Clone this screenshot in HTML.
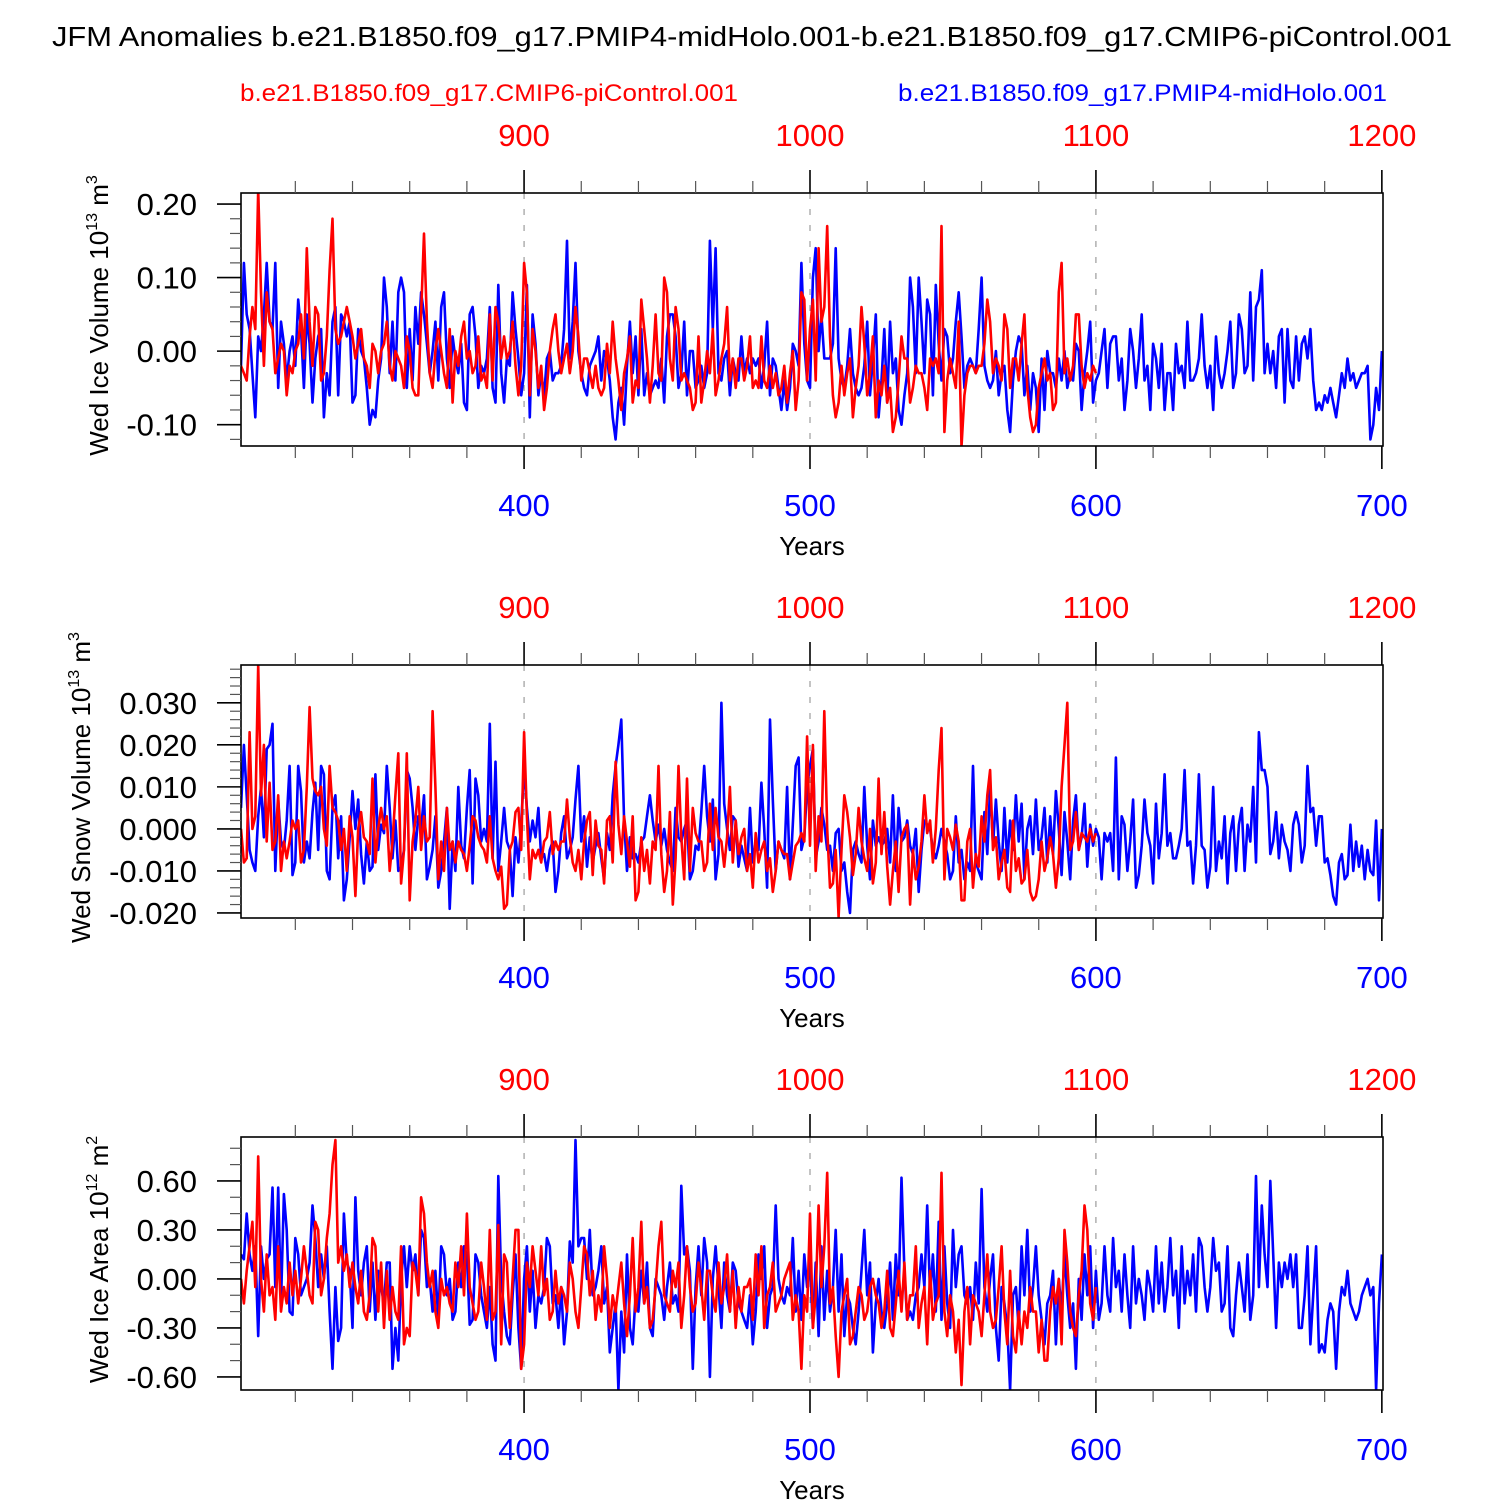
<!DOCTYPE html>
<html><head><meta charset="utf-8"><style>
html,body{margin:0;padding:0;background:#fff}
svg{display:block;font-family:"Liberation Sans",sans-serif}
</style></head><body>
<svg id="chart" width="1500" height="1500" viewBox="0 0 1500 1500" xmlns="http://www.w3.org/2000/svg">
<text x="52" y="46" font-size="28" textLength="1400" lengthAdjust="spacingAndGlyphs">JFM Anomalies b.e21.B1850.f09_g17.PMIP4-midHolo.001-b.e21.B1850.f09_g17.CMIP6-piControl.001</text>
<text x="240" y="101" font-size="24" fill="#ff0000" textLength="498" lengthAdjust="spacingAndGlyphs">b.e21.B1850.f09_g17.CMIP6-piControl.001</text>
<text x="898" y="101" font-size="24" fill="#0000ff" textLength="489" lengthAdjust="spacingAndGlyphs">b.e21.B1850.f09_g17.PMIP4-midHolo.001</text>
</svg>
<script>
// Panel 1: Wed Ice Volume (units 0.01)
const b1 = [-2,12,5,3,-3,-9,2,0,5,12,4,3,12,-5,4,1,-4,0,2,-2,
7,3,-5,5,1,-7,-1,2,3,-9,-3,-6,4,6,-6,5,4,2,4,-7,
-6,3,0,-1,-5,-10,-8,-9,-4,-1,10,6,-3,4,-4,8,10,8,-5,3,
-4,6,1,8,5,1,-3,0,4,-4,6,8,-1,-5,2,-1,-3,1,-7,-8,
5,6,2,-5,-2,-3,-1,6,-5,-7,9,-3,-7,-1,-2,8,3,-1,-6,-3,
9,-9,5,1,-6,-3,-6,-1,0,-4,-3,-3,-2,3,15,-1,4,12,0,-3,
-5,-6,-2,-1,0,2,-4,0,-1,-4,-9,-12,-7,-5,-10,-2,4,-3,2,-6,
3,-6,-3,-6,-5,-4,-5,-1,-7,2,5,5,2,-5,-3,4,-6,0,0,-5,
-4,-2,-5,-3,15,3,14,-3,-4,-1,0,-6,-1,-3,-4,2,-3,-1,-3,-1,
-2,-1,-5,-2,4,-6,-1,-2,-5,-8,-4,-8,-5,1,0,-2,12,1,-4,-5,
10,14,0,5,-1,-1,-1,1,14,-1,-4,-5,-2,3,-3,-5,-6,-5,-2,4,
-6,-1,5,-9,-4,3,-7,4,-3,-1,-8,-10,-6,-3,10,6,-3,10,4,-3,
7,5,-6,9,1,-4,3,2,-3,-1,4,8,2,-5,-2,-1,-2,-3,3,10,
-2,-4,-5,-4,0,-6,-3,-2,-8,-11,-4,0,2,1,-6,-2,-8,-3,-5,-11,
-1,-8,0,-3,-3,-5,-1,-4,0,-5,-3,-4,1,0,-8,-3,0,4,-7,-4,
-3,0,3,-5,1,2,2,-4,-1,-8,-4,3,0,-5,-1,5,-4,-2,-8,1,
-1,-5,1,-8,-3,-3,-8,1,-3,-2,-5,4,-4,-4,-3,-1,5,-2,-5,-2,
-8,2,-3,-5,-3,0,4,-5,-3,5,3,-3,-2,8,-4,6,7,11,-3,1,
-3,0,-5,2,3,-7,3,-4,-5,2,-4,1,2,-1,3,-4,-8,-7,-8,-6,
-7,-5,-7,-9,-6,-3,-5,-1,-4,-3,-5,-4,-3,-3,-2,-12,-10,-5,-8,0];
const r1 = [-2,-3,-4,2,6,3,22,8,-2,8,4,3,-3,-1,1,0,-6,-2,-3,0,
1,5,-1,14,4,-2,6,5,-4,-3,2,11,18,3,1,2,4,6,4,2,
-1,1,3,-1,-2,-5,1,0,-3,0,1,4,-2,-4,0,-1,-2,-5,2,0,
-5,-6,-6,5,16,4,-3,-5,0,3,0,-3,-5,3,-7,0,-2,2,4,-1,
0,-3,-2,2,-4,-3,-5,5,-4,6,4,-1,2,-1,0,4,-2,-6,-2,12,
8,-6,3,0,-5,-2,-8,-5,0,3,5,0,-3,-1,1,-3,0,6,2,-4,
-1,-1,-3,-5,-2,-5,-6,-5,1,-3,4,-1,-4,-8,-3,-1,2,-7,-4,-5,
7,3,-1,-7,-2,5,-3,-4,10,8,-1,-4,6,3,-4,-3,-4,-5,-8,-7,
2,-7,-4,0,-3,3,-6,-4,-1,1,6,-4,-1,-5,-1,-1,-4,-2,2,-5,
-4,-5,2,-4,-5,-2,-5,-3,-6,-5,-2,-7,-3,0,-8,-4,8,7,-4,3,
7,-4,14,4,6,17,2,-6,-9,-7,-2,-6,-3,-1,-9,-5,-2,6,1,-6,
-3,2,-9,-4,-6,-2,-7,-5,-11,-9,-4,2,-1,-1,-7,-5,-2,-3,-3,-5,
-8,-1,-2,-1,-3,17,-11,-4,-1,-3,-5,4,-13,-6,-3,-2,-2,-3,-2,-2,
1,7,4,-3,-1,-2,-4,5,3,-5,-1,-1,-4,1,5,-5,-9,-11,-10,-5,
-3,-1,-4,-3,-8,-7,8,12,-3,-1,-4,-2,5,5,-2,-5,-3,-4,-2,-3];
// Panel 2: Wed Snow Volume (units 0.001)
const b2 = [5,20,8,-5,-8,-10,3,10,-2,19,20,25,-10,7,-3,-5,2,15,-11,-8,
15,9,-8,-3,-7,4,11,-5,15,13,-10,-12,5,8,-7,3,-17,-12,-2,9,
0,7,-6,-13,-3,-10,-9,13,-5,1,-1,15,5,-7,2,-10,-9,-5,14,12,
5,-5,3,0,8,-12,-9,-5,3,-14,-10,-3,5,-19,-3,-10,10,-4,-7,5,
14,-13,12,8,-3,0,-3,25,-7,16,-10,-3,5,-3,-5,-16,-2,-8,1,15,
5,-3,2,-2,5,-7,-6,-10,-5,-3,-15,-10,-1,3,-7,-5,-2,7,15,-3,
3,-9,-2,-8,-4,-1,-7,-12,-1,-5,8,15,20,26,2,-10,-2,-7,-6,-8,
-3,-2,3,8,2,-3,1,-4,0,-5,-8,-10,5,-2,-3,0,2,-12,-10,-4,
-5,4,15,3,-3,7,-12,-6,30,6,0,-5,3,2,-9,-4,-7,-10,5,-8,
-3,-5,11,0,-14,26,7,-10,-3,-5,-7,10,-12,1,15,17,-5,-2,10,15,
19,-7,-3,5,1,-5,-4,-10,-1,0,-10,-8,-15,-20,-5,-3,-6,-8,10,-4,
-12,2,-4,-2,-4,-3,0,-8,8,-10,5,-3,-2,2,-4,-6,0,-15,-5,2,
1,0,-5,-7,-4,0,-3,-6,-12,-10,3,-8,-5,-12,-8,-10,15,-8,-10,-12,
4,-6,10,-4,7,-3,-10,5,-8,2,-5,8,-3,6,-12,0,3,-6,7,-5,
-2,5,-8,3,-6,9,0,-11,4,-3,-12,2,8,-5,-2,6,-9,1,-4,0,
-2,-12,-1,-3,-1,-10,17,-12,3,1,-10,-3,7,-14,-11,-4,7,-1,-4,-13,
6,-7,-1,13,-4,-1,-7,-7,-4,0,14,-4,-3,-13,-4,13,-4,-5,-14,-9,
10,-10,-3,-7,3,-13,-1,3,-10,1,5,-10,1,-3,10,-8,23,14,14,10,
-6,-3,4,-7,1,-3,-5,-10,1,4,1,-8,-4,15,4,5,-4,3,3,-8,
-7,-11,-16,-18,-8,-6,-12,-11,1,-10,-3,-9,-4,-12,-5,-10,-11,2,-17,0];
const r2 = [0,-8,-7,23,0,3,39,8,20,-3,11,-5,-3,8,-10,-3,-7,-3,2,0,
2,-8,-5,10,29,12,9,8,10,0,-4,15,5,4,2,-5,0,-10,3,-2,
-16,0,4,-2,-3,-6,12,-8,0,5,0,3,-10,-3,8,18,-13,-5,18,-17,
-3,2,10,-5,3,-3,-2,28,10,-12,-3,-10,5,-5,-3,-8,-3,-5,-6,-10,
-4,3,2,-2,-4,-5,-8,3,-7,-10,-12,-9,-19,-18,-5,-3,4,5,-5,23,
3,-12,-5,-7,-5,-8,-3,-2,4,-6,-3,-5,-3,-3,7,-2,-8,-10,-5,-12,
-3,2,4,-11,2,-4,-5,-13,2,3,-8,16,1,-6,3,-3,-9,3,-17,-15,
-2,-10,-5,-13,-3,-5,15,-6,-15,-10,4,-18,-7,15,-2,-12,12,-10,5,-1,
-3,-3,-10,-8,6,-5,5,-2,-3,-9,-2,10,-8,2,-6,-2,0,-10,-6,-14,
-1,-8,-5,-3,-10,-7,-15,-10,-3,-5,-6,-6,-12,-8,-4,-3,-1,-3,22,-4,
20,-10,3,-3,28,0,-14,-13,-5,-21,-5,8,4,-2,-11,-6,5,-3,-7,-10,
0,-13,-8,12,-6,4,-9,-18,-10,-3,-15,-2,0,1,-18,-5,-12,-9,-3,8,
-1,2,-8,0,14,24,-12,0,-2,-5,1,-3,-17,-17,-3,0,-14,-6,-9,3,
-3,8,14,-5,-2,-12,-8,-5,-14,-15,2,-10,-7,-13,-12,-5,-15,-17,-16,-12,
-3,-10,-7,-2,-6,-14,-7,10,20,30,-5,-3,4,-5,-1,-2,-3,0,-3,-1];
// Panel 3: Wed Ice Area (units 0.01)
const b3 = [15,12,40,15,5,20,-35,20,0,12,15,56,-5,56,-15,52,30,-20,-22,25,
15,-10,-5,0,10,45,25,-5,15,0,20,-20,-55,-5,-38,-30,40,10,5,-30,
50,5,-10,10,20,-20,10,-25,5,-5,-15,10,10,-55,-30,-50,0,20,-5,20,
5,15,-10,30,25,-5,0,-20,5,-25,20,15,-10,0,-25,-20,10,-5,20,15,
-28,-25,15,10,-10,-20,-30,-5,-40,-50,63,0,-20,-35,-40,-10,15,-30,-55,0,
20,-20,5,-30,-10,-15,-5,25,20,-15,-10,-30,-5,-40,-20,23,10,85,20,25,
25,0,30,-10,-5,5,20,-15,-5,-45,-30,-15,-68,-20,-45,15,-30,-40,-10,-20,
5,-15,10,-30,-35,0,-5,-10,-25,-5,10,-15,-10,-20,57,15,20,5,-55,-5,
20,-10,25,10,-60,0,20,-5,-30,10,-10,-20,10,5,-15,-20,-25,-30,-10,-40,
-20,15,0,20,-30,-10,-5,45,0,-10,-15,-5,-10,25,-20,5,-25,15,-5,10,
-30,10,-35,20,-25,5,-20,-5,30,-20,15,-35,-10,-15,-30,-40,-20,5,30,-10,
10,-45,-15,0,-20,-30,-15,10,-25,15,-10,62,5,-25,-20,-25,-10,-5,15,-5,
45,-10,15,-20,35,-25,20,-15,-30,30,-5,15,20,-10,-15,-5,-25,10,-15,55,
-5,-20,0,15,-30,-50,-5,-15,-30,-68,-10,-5,-30,20,-10,30,-20,-5,20,-10,
-25,-40,-15,-10,5,-40,0,-20,15,-10,-30,-15,-55,0,-25,15,-10,20,-30,5,
-25,-15,20,-10,-20,25,-5,5,-20,15,-10,-30,20,-15,0,-10,-25,5,-5,-20,
20,-15,10,-20,-5,25,-10,5,-30,20,-15,5,-10,15,-20,25,20,-5,-20,-5,
25,5,10,-20,-15,20,-30,-35,-10,10,-5,-20,15,-25,-10,63,-5,45,15,-5,
60,15,-30,10,-5,10,0,15,-5,15,-30,-30,-10,20,-40,-10,20,-45,-40,-45,
-25,-15,-20,-55,-20,-5,-10,5,-15,-20,-25,-20,-10,-5,0,-10,-5,-68,-15,15];
const r3 = [0,-15,5,20,35,-5,75,0,-20,15,-10,-5,-25,20,-20,-5,-15,10,-10,5,
-15,0,20,5,-10,-15,35,30,-10,0,25,40,70,85,10,20,5,15,-5,10,
-5,-15,5,-20,-25,-10,25,20,-20,10,-30,5,-25,-5,-20,-25,20,-40,-30,-35,
10,5,-10,50,40,10,-5,5,-20,-30,0,-10,-5,-15,-20,10,-5,20,-10,40,
-5,-15,-25,-20,10,-5,-25,30,-25,-20,33,-40,15,10,-30,0,30,30,-55,-40,
10,-5,20,5,-10,20,-10,0,-25,-20,5,-15,-5,-10,-20,10,0,-20,-30,-5,
20,15,-10,5,-25,-10,-20,20,0,-30,-10,-20,-5,10,-15,-35,-10,25,-20,-5,
35,-15,-5,-30,-25,-5,20,35,-10,-15,-20,5,-5,10,-30,-10,20,-5,-20,-15,
10,-5,-25,5,5,-10,-20,10,-15,-5,15,-20,5,-30,-5,-20,-5,-5,0,-25,
15,-10,20,-30,-10,-5,10,-20,-15,-10,0,5,10,-25,-10,-20,-55,-10,-20,40,
-30,-10,45,-5,20,65,-15,-5,-35,-60,-20,-10,0,-40,-35,-20,-5,-10,-25,-20,
-5,0,-10,-15,-30,-20,5,-30,-35,-15,5,-20,10,-25,-10,-10,20,-30,-15,-5,
-40,5,-25,-15,-10,65,-20,-35,-10,-20,-45,-25,-65,-20,-5,-40,-10,-15,-20,-35,
-10,15,-20,-30,-25,-5,20,-20,-40,5,-35,-45,-20,-40,-20,-30,-5,-20,-20,-45,
-25,-50,-50,-20,-5,-15,0,-40,30,10,-20,-30,-35,-10,5,45,30,-15,-25,-5];
const bottomTicks = ["400","500","600","700"];
const topTicks = ["900","1000","1100","1200"];
const yTicks1 = ["0.20","0.10","0.00","-0.10"];
const yTicks2 = ["0.030","0.020","0.010","0.000","-0.010","-0.020"];
const yTicks3 = ["0.60","0.30","0.00","-0.30","-0.60"];

const NS='http://www.w3.org/2000/svg';
const svg=document.getElementById('chart');
function mk(tag,attrs,parent){const e=document.createElementNS(NS,tag);for(const k in attrs)e.setAttribute(k,attrs[k]);(parent||svg).appendChild(e);return e;}
const X0=241,X1=1383,Y0=301,Y1=700.4;
function xs(yr){return X0+(yr-Y0)/(Y1-Y0)*(X1-X0);}

const panels=[
 {off:0,b:b1,r:r1,scale:0.01,vmin:-0.129,vmax:0.215,ticks:yTicks1,minor:0.02,title:"Wed Ice Volume 10",exp:"13",unit:" m",uexp:"3",tx:108},
 {off:472,b:b2,r:r2,scale:0.001,vmin:-0.0212,vmax:0.039,ticks:yTicks2,minor:0.002,title:"Wed Snow Volume 10",exp:"13",unit:" m",uexp:"3",tx:90},
 {off:944,b:b3,r:r3,scale:0.01,vmin:-0.68,vmax:0.869,ticks:yTicks3,minor:0.1,title:"Wed Ice Area 10",exp:"12",unit:" m",uexp:"2",tx:108}
];
panels.forEach((p,i)=>{
 const top=193+p.off,bot=446+p.off;
 const g=mk('g',{});
 
 
 const ys=v=>bot-(v-p.vmin)/(p.vmax-p.vmin)*(bot-top);
 [400,500,600].forEach(yr=>{
  const l=mk('line',{x1:xs(yr),x2:xs(yr),y1:top,y2:bot,stroke:'#888','stroke-width':1,'stroke-dasharray':'6,10'},g);
  
  
 });
 const clip=mk('clipPath',{id:'clip'+i},g);
 mk('rect',{x:X0,y:top,width:X1-X0,height:bot-top},clip);
 const pts=(arr,start)=>arr.map((v,k)=>xs(start+k).toFixed(1)+','+ys(v*p.scale).toFixed(1)).join(' ');
 const bl=mk('polyline',{points:pts(p.b,301),fill:'none',stroke:'#0000ff','stroke-width':2.6,'stroke-linejoin':'round','clip-path':'url(#clip'+i+')'},g);
 
 
 const rl=mk('polyline',{points:pts(p.r,301),fill:'none',stroke:'#ff0000','stroke-width':2.6,'stroke-linejoin':'round','clip-path':'url(#clip'+i+')'},g);
 
 
 const frame=mk('rect',{x:X0,y:top,width:X1-X0,height:bot-top,fill:'none',stroke:'#000','stroke-width':1.6},g);
 
 
 for(let yr=320;yr<=700;yr+=20){
  const major=yr%100===0;const L=major?23:12;const x=xs(yr);
  mk('line',{x1:x,x2:x,y1:top,y2:top-L,stroke:major?'#000':'#555','stroke-width':major?1.6:1.2},g);
  mk('line',{x1:x,x2:x,y1:bot,y2:bot+L,stroke:major?'#000':'#555','stroke-width':major?1.6:1.2},g);
 }
 bottomTicks.forEach(t=>{
  const e=mk('text',{x:xs(+t),y:516+p.off,'font-size':31,'text-anchor':'middle',fill:'#0000ff'},g);
  
  
  e.textContent=t;
 });
 topTicks.forEach(t=>{
  const e=mk('text',{x:xs(+t-500),y:146+p.off,'font-size':31,'text-anchor':'middle',fill:'#ff0000'},g);
  
  
  e.textContent=t;
 });
 const xt=mk('text',{x:812,y:555+p.off,'font-size':26,'text-anchor':'middle'},g);
 
 
 xt.textContent='Years';
 const n0=Math.ceil(p.vmin/p.minor-1e-6),n1=Math.floor(p.vmax/p.minor+1e-6);
 const majors=p.ticks.map(Number);
 for(let n=n0;n<=n1;n++){
  const v=n*p.minor;const isMaj=majors.some(m=>Math.abs(m-v)<p.minor/10);
  const y=ys(v);
  mk('line',{x1:X0,x2:X0-(isMaj?24:11),y1:y,y2:y,stroke:isMaj?'#000':'#555','stroke-width':isMaj?1.6:1.2},g);
 }
 p.ticks.forEach(t=>{
  const e=mk('text',{x:197,y:ys(+t)+11,'font-size':31,'text-anchor':'end'},g);
  
  
  e.textContent=t;
 });
 const yt=mk('text',{x:0,y:0,'font-size':26,'text-anchor':'middle',transform:'translate('+p.tx+','+((top+bot)/2-4)+') rotate(-90)'},g);
 
 
 const s1=mk('tspan',{},yt);s1.textContent=p.title;
 const s2=mk('tspan',{dy:-11,'font-size':16},yt);s2.textContent=p.exp;
 const s3=mk('tspan',{dy:11},yt);s3.textContent=p.unit;
 const s4=mk('tspan',{dy:-11,'font-size':16},yt);s4.textContent=p.uexp;
});
</script>
</body></html>
